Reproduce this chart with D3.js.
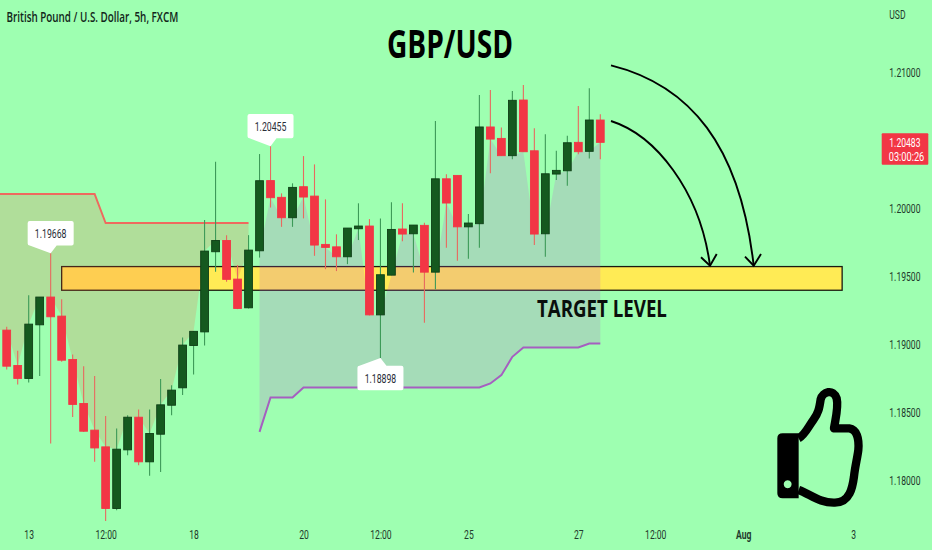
<!DOCTYPE html>
<html>
<head>
<meta charset="utf-8">
<script src="https://cdn.jsdelivr.net/npm/d3@7"></script>
<style>
html,body{margin:0;padding:0;background:#9effb1;overflow:hidden}
svg{display:block}
</style>
</head>
<body>
<svg id="chart" width="932" height="550"></svg>
<script>
// ---- data ----
const opens  = [1.19103,1.18843,1.18748,1.19142,1.19346,1.19206,1.18887,1.18564,1.18368,1.18245,1.17792,1.18223,1.18463,1.18135,1.18338,1.18551,1.18679,1.18990,1.19090,1.19679,1.19762,1.19478,1.19267,1.19686,1.20202,1.20079,1.19929,1.20157,1.20088,1.19733,1.19715,1.19642,1.19848,1.19868,1.19215,1.19507,1.19846,1.19811,1.19873,1.19529,1.20215,1.20240,1.19862,1.19885,1.20596,1.20512,1.20385,1.20794,1.20421,1.19811,1.20250,1.20274,1.20483,1.20417,1.20647];
const closes = [1.18838,1.18748,1.19147,1.19346,1.19201,1.18882,1.18557,1.18360,1.18237,1.17792,1.18228,1.18463,1.18135,1.18343,1.18554,1.18662,1.18993,1.19094,1.19684,1.19762,1.19476,1.19262,1.19691,1.20201,1.20076,1.19929,1.20152,1.20081,1.19728,1.19711,1.19642,1.19853,1.19868,1.19215,1.19510,1.19843,1.19809,1.19875,1.19529,1.20215,1.20037,1.19862,1.19890,1.20596,1.20507,1.20385,1.20792,1.20414,1.19809,1.20252,1.20277,1.20480,1.20414,1.20647,1.20483];
const highs  = [1.19127,1.18951,1.19360,1.19346,1.19668,1.19329,1.18924,1.18838,1.18765,1.18471,1.18380,1.18478,1.18520,1.18520,1.18743,1.18698,1.19049,1.19096,1.19912,1.20340,1.19801,1.19581,1.19801,1.20397,1.20455,1.20108,1.20182,1.20382,1.20321,1.20064,1.19807,1.19853,1.20035,1.19919,1.19924,1.20042,1.20035,1.19875,1.19892,1.20640,1.20248,1.20240,1.19956,1.20831,1.20868,1.20593,1.20860,1.20904,1.20586,1.20542,1.20421,1.20532,1.20750,1.20880,1.20689];
const lows   = [1.18814,1.18704,1.18718,1.18765,1.18270,1.18870,1.18465,1.18355,1.18135,1.17701,1.17779,1.18184,1.18110,1.18032,1.18061,1.18478,1.18627,1.18777,1.18990,1.19532,1.19458,1.19257,1.19262,1.19636,1.20004,1.19862,1.19862,1.19924,1.19649,1.19551,1.19537,1.19588,1.19765,1.19211,1.18898,1.19507,1.19757,1.19527,1.19157,1.19404,1.19708,1.19612,1.19627,1.19708,1.20255,1.20385,1.20358,1.20414,1.19728,1.19642,1.20206,1.20164,1.20395,1.20365,1.20358];
// upper line: first 23 bars (9 at the higher level, 14 at the lower)
const resistance = [1.20103,1.20103,1.20103,1.20103,1.20103,1.20103,1.20103,1.20103,1.20103,1.19890,1.19890,1.19890,1.19890,1.19890,1.19890,1.19890,1.19890,1.19890,1.19890,1.19890,1.19890,1.19890,1.19890];
// lower line: bars 23 to 54
const supportStart = 23;
const support = [1.18355,1.18608,1.18608,1.18608,1.18682,1.18682,1.18682,1.18682,1.18682,1.18682,1.18682,1.18682,1.18682,1.18682,1.18682,1.18682,1.18682,1.18682,1.18682,1.18682,1.18682,1.18711,1.18772,1.18907,1.18976,1.18976,1.18976,1.18976,1.18976,1.18976,1.19005,1.19005];
const priceTicks = [1.18,1.185,1.19,1.195,1.20,1.21];
const timeTickBars = [2,9,17,27,34,42,52,59,67,77];
const timeTickLabels = ["13","12:00","18","20","12:00","25","27","12:00","Aug","3"];
const zoneTop = 1.19570, zoneBottom = 1.19396, zoneStartBar = 5, zoneEndBar = 76;
const calloutBars = [4,24,34];
const lastPrice = "1.20483", countdown = "03:00:26", currency = "USD";
const headerText = "British Pound / U.S. Dollar, 5h, FXCM";
const titleText = "GBP/USD", targetText = "TARGET LEVEL";

// ---- scales ----
const svg = d3.select("#chart");
const x = d3.scaleLinear().domain([0,54]).range([6.7,600.3]);
const y = d3.scaleLinear().domain([1.21,1.18]).range([72,480.2]);
const bars = d3.range(opens.length);
const bodyTop = i => Math.max(opens[i],closes[i]);
const bodyBot = i => Math.min(opens[i],closes[i]);

const UI = "Roboto, sans-serif";
// narrow a text horizontally about its own anchor (the source picture is condensed)
function squeeze(sel, ratio){
  sel.each(function(){
    const t = d3.select(this);
    const px = +t.attr("x")||0, py = +t.attr("y")||0;
    t.attr("x",0).attr("y",0).attr("transform",`translate(${px},${py}) scale(${ratio},1)`);
  });
}
// narrow a text to an exact measured width
function fitWidth(sel, width){
  sel.each(function(){
    const w = this.getComputedTextLength();
    d3.select(this).call(squeeze, width/w);
  });
}

// ---- target zone ----
svg.append("rect").attr("x",x(zoneStartBar)).attr("y",y(zoneTop))
  .attr("width",x(zoneEndBar)-x(zoneStartBar)).attr("height",y(zoneBottom)-y(zoneTop))
  .attr("fill","#ffeb55").attr("stroke","#1a1a10").attr("stroke-width",1.3);

// ---- bands ----
const leftBars = d3.range(resistance.length);
const leftX = i => i===-1 ? 0 : x(i);
const leftKeys = [-1].concat(leftBars);
const keyOf = i => i===-1 ? 0 : i;
svg.append("path").attr("fill","rgb(250,90,65)").attr("fill-opacity",0.2)
  .attr("d", d3.area().x(leftX).y0(i=>y(resistance[keyOf(i)])).y1(i=>y(bodyTop(keyOf(i))))(leftKeys));
svg.append("path").attr("fill","none").attr("stroke","#ee6a5e").attr("stroke-width",1.9)
  .attr("d", d3.line().x(leftX).y(i=>y(resistance[keyOf(i)]))(leftKeys));

const rightBars = d3.range(support.length);
svg.append("path").attr("fill","rgb(195,80,215)").attr("fill-opacity",0.2)
  .attr("d", d3.area().x(k=>x(k+supportStart)).y0(k=>y(support[k])).y1(k=>y(bodyBot(k+supportStart)))(rightBars));
svg.append("path").attr("fill","none").attr("stroke","#a55fc0").attr("stroke-width",2)
  .attr("d", d3.line().x(k=>x(k+supportStart)).y(k=>y(support[k]))(rightBars));

// ---- candles ----
const isUp = i => closes[i] >= opens[i];
const candle = svg.append("g").selectAll("g").data(bars).join("g");
candle.append("line")
  .attr("x1",i=>x(i)).attr("x2",i=>x(i)).attr("y1",i=>y(highs[i])).attr("y2",i=>y(lows[i]))
  .attr("stroke",i=>isUp(i)?"#3d9a58":"#e8695f").attr("stroke-width",1.1);
const bodyW = 7.8;
candle.append("rect")
  .attr("x",i=>x(i)-bodyW/2).attr("width",bodyW)
  .attr("y",i=>y(bodyTop(i))).attr("height",i=>Math.max(1.5,y(bodyBot(i))-y(bodyTop(i))))
  .attr("fill",i=>isUp(i)?"#15591f":"#f23645")
  .attr("stroke",i=>isUp(i)?"#0e3f16":"#f23645").attr("stroke-width",0.9);

// ---- high / low callouts ----
const calloutW = 46, calloutH = 24.4, pointer = 7.8, r = 2;
calloutBars.forEach(i=>{
  const below = i===34;
  const cx = x(i), tip = below ? y(lows[i]) : y(highs[i]);
  const dir = below ? 1 : -1;
  const edge = tip + dir*pointer, far = edge + dir*calloutH;
  const l = cx-calloutW/2, rr = cx+calloutW/2;
  const p = d3.path();
  p.moveTo(cx,tip);
  p.lineTo(cx+6,edge);
  p.arcTo(rr,edge,rr,far,r);
  p.arcTo(rr,far,l,far,r);
  p.arcTo(l,far,l,edge,r);
  p.arcTo(l,edge,cx-6,edge,r);
  p.closePath();
  svg.append("path").attr("d",p.toString()).attr("fill","#fff");
  svg.append("text").attr("x",cx).attr("y",(edge+far)/2+4.6)
    .attr("text-anchor","middle").attr("font-family",UI).attr("font-size",13).attr("fill","#2a2e39")
    .text(d3.format(".5f")(below?lows[i]:highs[i])).call(squeeze,0.67);
});

// ---- axes ----
const yAxis = d3.axisRight(y).tickValues(priceTicks).tickFormat(d3.format(".5f")).tickSize(0).tickPadding(0);
const yg = svg.append("g").attr("transform","translate(889.3,0)").call(yAxis);
yg.select(".domain").remove();
yg.selectAll("text").attr("font-family",UI).attr("font-size",13).attr("fill","#1f3a2c").attr("x",0).attr("y",0.5).call(squeeze,0.66);

const xAxis = d3.axisBottom(x).tickValues(timeTickBars).tickFormat((d,i)=>timeTickLabels[i]).tickSize(0).tickPadding(0);
const xg = svg.append("g").attr("transform","translate(0,530)").call(xAxis);
xg.select(".domain").remove();
xg.selectAll("text").attr("font-family",UI).attr("font-size",13).attr("fill","#1f3a2c")
  .attr("font-weight",d=>d===67?700:400).attr("dy","0.71em").attr("y",0).call(squeeze,0.66);

svg.append("text").attr("x",889.3).attr("y",18.8).attr("font-family",UI).attr("font-size",13).attr("fill","#1f3a2c")
  .text(currency).call(squeeze,0.66);

// ---- last price tag ----
svg.append("rect").attr("x",881.7).attr("y",133.3).attr("width",46.6).attr("height",31.4).attr("rx",1).attr("fill","#f23645");
svg.append("text").attr("x",889.3).attr("y",147.3).attr("font-family",UI).attr("font-size",13).attr("fill","#fff")
  .text(lastPrice).call(squeeze,0.66);
svg.append("text").attr("x",888.7).attr("y",161.3).attr("font-family",UI).attr("font-size",13).attr("fill","#fff")
  .text(countdown).call(squeeze,0.71);

// ---- header and annotations ----
svg.append("text").attr("x",6.5).attr("y",22).attr("font-family","'Open Sans', sans-serif").attr("font-weight",600)
  .attr("font-size",14).attr("fill","#12261a").text(headerText).call(fitWidth,172);
svg.append("text").attr("x",387).attr("y",58).attr("font-family","'Open Sans', sans-serif").attr("font-weight",700)
  .attr("font-size",39).attr("fill","#000").text(titleText).call(fitWidth,126);
svg.append("text").attr("x",537).attr("y",317).attr("font-family","'Open Sans', sans-serif").attr("font-weight",700)
  .attr("font-size",24).attr("fill","#0a0f0c").text(targetText).call(fitWidth,130);

// hand-drawn arrows
const arrows = svg.append("g").attr("fill","none").attr("stroke","#000").attr("stroke-width",1.9);
arrows.append("path").attr("d","M611,65.3C690,85 740,145 753.7,265.7");
arrows.append("path").attr("d","M745,256.7L753.7,265.7L761,254");
arrows.append("path").attr("d","M611,121C655,135 700,190 710,265.7");
arrows.append("path").attr("d","M701,257.3L710,265.7L716.7,254");

// thumbs-up sticker (crop coordinates / 3)
const thumb = svg.append("g").attr("transform","translate(750,370) scale(0.3333)");
thumb.append("path").attr("fill","none").attr("stroke","#000").attr("stroke-width",25).attr("stroke-linejoin","round")
  .attr("d","M146,205 C165,195 175,170 190,150 C205,130 208,115 212,88 C218,65 250,55 260,85 C266,110 258,140 252,175 L298,175 C320,178 328,205 325,240 C322,265 315,290 312,320 C308,350 300,398 255,398 C210,400 180,372 146,360");
thumb.append("path").attr("fill","#000").attr("fill-rule","evenodd")
  .attr("d","M98,190 H146 V385 H98 Q82,385 82,370 V205 Q82,190 98,190 Z M113,331 a12,12 0 1,0 0.01,0 Z");
</script>
</body>
</html>
